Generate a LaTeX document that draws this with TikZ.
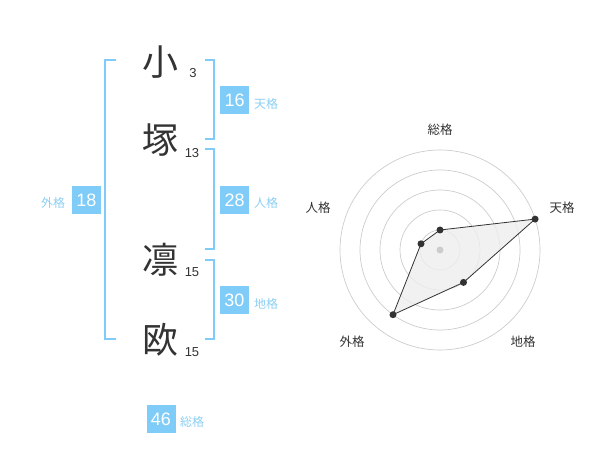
\documentclass[tikz,border=0pt]{standalone}
\usepackage{fontspec}
\setmainfont{Liberation Sans}
\newfontfamily\jp{Noto Sans CJK JP}
\definecolor{kakublue}{HTML}{80CCF8}
\definecolor{labblue}{HTML}{8CCFF4}
\definecolor{ink}{HTML}{333333}
\definecolor{ringgray}{HTML}{CCCCCC}
\definecolor{areagray}{HTML}{EEEEEE}
\begin{document}
\begin{tikzpicture}[x=1pt,y=-1pt,
  kanji/.style={font=\jp\fontsize{36}{36}\selectfont, text=ink, inner sep=0pt},
  strokes/.style={font=\fontsize{13}{13}\selectfont, text=ink, inner sep=0pt},
  numbox/.style={fill=kakublue, text=white, minimum width=29pt, minimum height=28pt, inner sep=0pt, font=\fontsize{18}{18}\selectfont},
  kaku/.style={text=labblue, font=\jp\fontsize{12}{12}\selectfont, inner sep=0pt},
  bracket/.style={draw=kakublue, line width=2pt},
  ring/.style={draw=ringgray, line width=0.7pt},
  axislab/.style={text=ink, font=\jp\fontsize{12.5}{12.5}\selectfont, inner sep=0pt},
  dot/.style={circle, fill=ink, inner sep=0pt, minimum size=7pt}]
\useasboundingbox (0,0) rectangle (600,470);
% name characters
\node[kanji] (k1) at (160,62) {小};
\node[kanji] (k2) at (160,140) {塚};
\node[kanji] (k3) at (160,260) {凛};
\node[kanji] (k4) at (160,340) {欧};
\node[strokes] (s1) at (193,73) {3};
\node[strokes] (s2) at (192,153) {13};
\node[strokes] (s3) at (192,272) {15};
\node[strokes] (s4) at (192,352) {15};
% brackets
\draw[bracket] (116,60) -- (105,60) -- (105,339) -- (116,339);
\draw[bracket] (205,60) -- (214,60) -- (214,139) -- (205,139);
\draw[bracket] (205,149) -- (214,149) -- (214,249) -- (205,249);
\draw[bracket] (205,260) -- (214,260) -- (214,339) -- (205,339);
% boxes
\node[numbox] (b16) at (234.7,100.2) {16};
\node[kaku] (l16) at (266,104) {天格};
\node[numbox] (b28) at (234.7,200) {28};
\node[kaku] (l28) at (266,203) {人格};
\node[numbox] (b18) at (86.5,200) {18};
\node[kaku] (l18) at (53,203) {外格};
\node[numbox] (b30) at (234.4,300) {30};
\node[kaku] (l30) at (266,304) {地格};
\node[numbox] (b46) at (161,419) {46};
\node[kaku] (l46) at (192,422) {総格};
% radar
\coordinate (c) at (440,250);
\foreach \r in {20,40,60,80,100} \draw[ring] (c) circle[radius=\r pt];
\coordinate (pS) at (440,230);
\coordinate (pT) at (535.1,219.1);
\coordinate (pC) at (463.5,282.4);
\coordinate (pG) at (393.0,314.7);
\coordinate (pJ) at (421.0,243.8);
\fill[areagray, opacity=0.8] (pS) -- (pT) -- (pC) -- (pG) -- (pJ) -- cycle;
\draw[ink, line width=0.8pt] (pS) -- (pT) -- (pC) -- (pG) -- (pJ) -- cycle;
\node[circle, fill=ringgray, inner sep=0pt, minimum size=7pt] (ctr) at (c) {};
\foreach \p in {pS,pT,pC,pG,pJ} \node[dot] (d\p) at (\p) {};
\node[axislab] (aS) at (440,130) {総格};
\node[axislab] (aT) at (562,208) {天格};
\node[axislab] (aJ) at (318,208) {人格};
\node[axislab] (aG) at (352,342) {外格};
\node[axislab] (aC) at (523,342) {地格};
\end{tikzpicture}
\end{document}
